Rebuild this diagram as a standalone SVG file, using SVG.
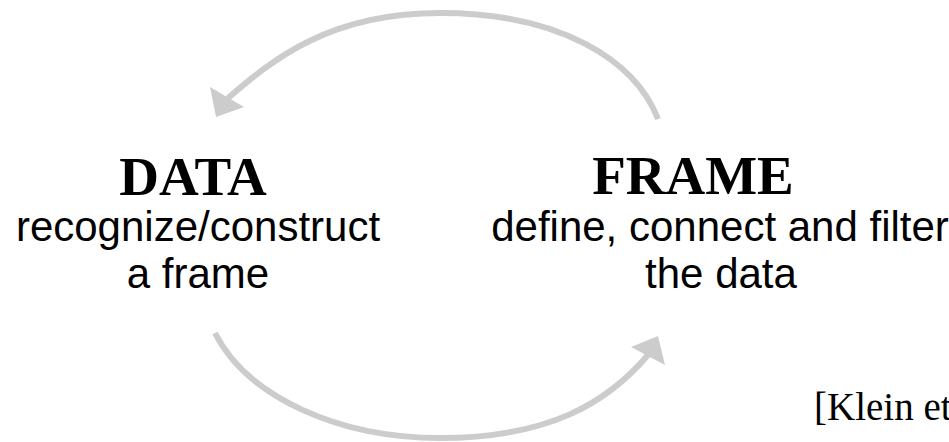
<svg xmlns="http://www.w3.org/2000/svg" width="949" height="442" viewBox="0 0 949 442">
<style>
.arc{fill:none;stroke:#cccccc;stroke-width:6}
.head{fill:#cccccc}
.title{font-family:"Liberation Serif",serif;font-weight:bold;font-size:55px;fill:#000;text-anchor:middle}
.sub{font-family:"Liberation Sans",Arial,sans-serif;font-size:42px;fill:#000;text-anchor:middle}
.cite{font-family:"Liberation Serif",serif;font-size:39px;fill:#000}
</style>
<rect width="949" height="442" fill="#ffffff"/>
<g id="connectors">
<path class="arc" d="M658,119 C635,60 560,13 440,13 C330,13 273,59 227,99"/>
<polygon class="head" points="216,117 210,87 244,107"/>
<path class="arc" d="M215,333 C248,398 340,438 440,438 C550,438 608,402 648,355"/>
<polygon class="head" points="658,336 631,347 665,365"/>
</g>
<g id="data">
<text class="title" x="193" y="195">DATA</text>
<text class="sub" x="198" y="241">recognize/construct</text>
<text class="sub" x="198" y="288">a frame</text>
</g>
<g id="frame">
<text class="title" x="693" y="194">FRAME</text>
<text class="sub" x="720" y="241">define, connect and filter</text>
<text class="sub" x="721" y="288">the data</text>
</g>
<text class="cite" x="814" y="420">[Klein et</text>
</svg>
